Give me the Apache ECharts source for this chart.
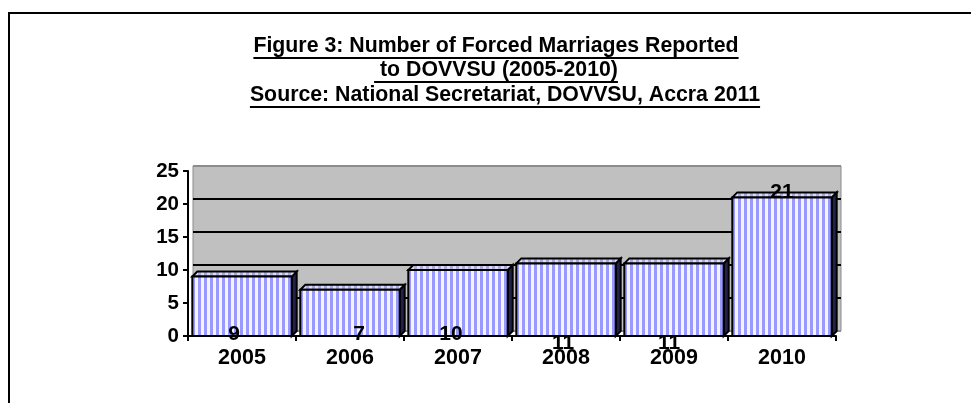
<!DOCTYPE html>
<html>
<head>
<meta charset="utf-8">
<script src="https://cdn.jsdelivr.net/npm/echarts@6/dist/echarts.min.js"></script>
<style>
html,body{margin:0;padding:0;background:#fff;}
#chart{width:971px;height:403px;}
</style>
</head>
<body>
<div id="chart"></div>
<script>
// ---- data ----
const categories = ['2005', '2006', '2007', '2008', '2009', '2010'];
const reported = [9, 7, 10, 11, 11, 21];
const yTicks = [0, 5, 10, 15, 20, 25];
const titleLines = [
  'Figure 3: Number of Forced Marriages Reported',
  ' to DOVVSU (2005-2010)',
  'Source: National Secretariat, DOVVSU, Accra 2011'
];

// ---- styling ----
const FONT = '"Liberation Sans", Arial, sans-serif';
const chart = echarts.init(document.getElementById('chart'));

// stripe pattern for the bar fronts
function stripes(a, b, wa, wb) {
  const c = document.createElement('canvas');
  c.width = wa + wb; c.height = 4;
  const g = c.getContext('2d');
  g.fillStyle = a; g.fillRect(0, 0, wa, 4);
  g.fillStyle = b; g.fillRect(wa, 0, wb, 4);
  return c;
}
const frontPattern = { image: stripes('#9999ff', '#f4f4ff', 3, 3), repeat: 'repeat' };
const topPattern = { image: stripes('#aaaadd', '#dcdcf2', 3, 3), repeat: 'repeat' };

// label placement style (Excel 3D label quirks)
const labelMode = ['base', 'base', 'base', 'below', 'below', 'top'];
const labelNudge = [-8, 9, -7, -3, -5, 0];

function renderBar(params, api) {
  const i = api.value(0), v = api.value(1);
  const base = api.coord([i, 0]);
  const top = api.coord([i, v]);
  const bw = api.size([1, 0])[0] * 0.92;
  const x0 = base[0] - bw / 2, x1 = base[0] + bw / 2;
  const y0 = base[1], y1 = top[1];
  const d = 5;
  let ly;
  if (labelMode[i] === 'base') ly = y0 - 2;
  else if (labelMode[i] === 'below') ly = y0 + 7;
  else ly = y1 - 5;
  return {
    type: 'group',
    children: [
      { type: 'polygon', shape: { points: [[x1, y1], [x1 + d, y1 - d], [x1 + d, y0 - d], [x1, y0]] },
        style: { fill: '#22224a', stroke: '#000', lineWidth: 2 } },
      { type: 'polygon', shape: { points: [[x0, y1], [x1, y1], [x1 + d, y1 - d], [x0 + d, y1 - d]] },
        style: { fill: topPattern, stroke: '#000', lineWidth: 2 } },
      { type: 'rect', shape: { x: x0, y: y1, width: bw, height: y0 - y1 },
        style: { fill: frontPattern, stroke: '#000', lineWidth: 2 } },
      { type: 'text', z2: 100,
        style: { x: base[0] + labelNudge[i], y: ly, text: String(v), fill: '#000',
          font: 'bold 21px ' + FONT, textAlign: 'center', textVerticalAlign: 'middle' } }
    ]
  };
}

// title with underline
function measure(text, font) {
  const g = document.createElement('canvas').getContext('2d');
  g.font = font;
  return g.measureText(text).width;
}
const titleFont = 'bold 21.3px ' + FONT;
const titleCenters = [496, 496, 505];
const titleYs = [48, 72, 97];
const titleGraphics = [];
titleLines.forEach((t, k) => {
  const w = measure(t, titleFont);
  titleGraphics.push({ type: 'text', left: titleCenters[k] - w / 2, top: titleYs[k] - 12,
    style: { text: t, font: titleFont, fill: '#000' } });
  titleGraphics.push({ type: 'line', shape: { x1: titleCenters[k] - w / 2, y1: titleYs[k] + 10, x2: titleCenters[k] + w / 2, y2: titleYs[k] + 10 },
    style: { stroke: '#000', lineWidth: 2 } });
});

const option = {
  backgroundColor: '#fff',
  animation: false,
  graphic: [
    { type: 'rect', shape: { x: 9, y: 13, width: 1000, height: 500 }, style: { fill: 'none', stroke: '#000', lineWidth: 2 }, z: -10 }
  ].concat(titleGraphics),
  grid: [
    { left: 188, top: 171, width: 648, height: 165 },
    { left: 193, top: 166, width: 648, height: 165, show: true, backgroundColor: '#c0c0c0', borderColor: '#8c8c8c', borderWidth: 1, z: 0 }
  ],
  xAxis: [
    { type: 'category', data: categories, gridIndex: 0,
      axisLine: { lineStyle: { color: '#000', width: 2 } },
      axisTick: { show: true, length: 5, lineStyle: { color: '#000', width: 2 } },
      axisLabel: { color: '#000', fontFamily: FONT, fontWeight: 'bold', fontSize: 21.5, margin: 11 },
      z: 10 },
    { type: 'category', data: categories, gridIndex: 1, show: false }
  ],
  yAxis: [
    { type: 'value', gridIndex: 0, min: yTicks[0], max: yTicks[yTicks.length - 1], interval: yTicks[1] - yTicks[0],
      axisLine: { show: true, lineStyle: { color: '#000', width: 2 } },
      axisTick: { show: true, length: 5, lineStyle: { color: '#000', width: 2 } },
      axisLabel: { color: '#000', fontFamily: FONT, fontWeight: 'bold', fontSize: 20.5, margin: 9 },
      splitLine: { show: false }, z: 10 },
    { type: 'value', gridIndex: 1, min: yTicks[0], max: yTicks[yTicks.length - 1], interval: yTicks[1] - yTicks[0],
      axisLine: { show: false }, axisTick: { show: false }, axisLabel: { show: false },
      splitLine: { show: true, lineStyle: { color: ['#8c8c8c', '#000', '#000', '#000', '#000', '#8c8c8c'], width: 2 } } }
  ],
  series: [
    { type: 'custom', xAxisIndex: 0, yAxisIndex: 0, z: 5,
      data: reported.map((v, i) => [i, v]),
      renderItem: renderBar, clip: false }
  ]
};
chart.setOption(option);
</script>
</body>
</html>
